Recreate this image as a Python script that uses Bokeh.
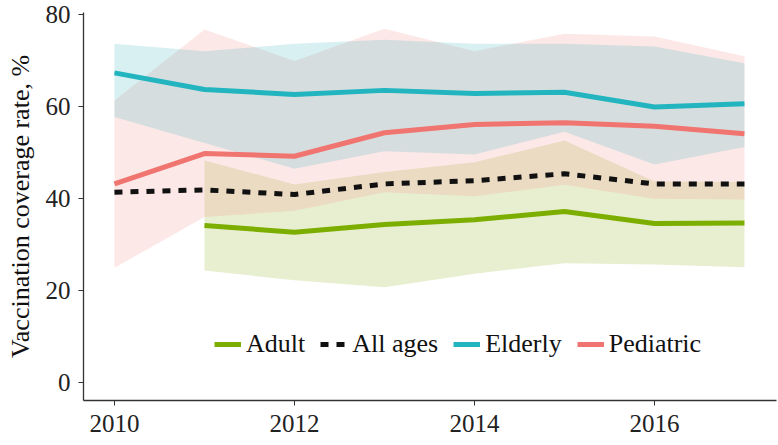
from bokeh.plotting import figure
from bokeh.models import Range1d, FixedTicker, Legend, LegendItem
from bokeh.embed import file_html
from bokeh.resources import INLINE

years = [2010, 2011, 2012, 2013, 2014, 2015, 2016, 2017]
adult_years = [2011, 2012, 2013, 2014, 2015, 2016, 2017]

adult = [34.2, 32.7, 34.4, 35.4, 37.2, 34.6, 34.7]
adult_lo = [24.4, 22.3, 20.8, 23.7, 26.0, 25.7, 25.1]
adult_hi = [48.3, 43.1, 45.8, 47.9, 52.6, 43.7, 43.6]

all_ages = [41.4, 41.9, 40.9, 43.2, 43.9, 45.4, 43.2, 43.2]

elderly = [67.3, 63.7, 62.6, 63.5, 62.8, 63.1, 59.9, 60.6]
elderly_lo = [57.7, 52.1, 46.5, 50.3, 49.6, 54.5, 47.4, 51.2]
elderly_hi = [73.6, 72.0, 73.6, 74.5, 73.6, 73.6, 73.0, 69.4]

pediatric = [43.2, 49.8, 49.2, 54.3, 56.1, 56.5, 55.7, 54.1]
pediatric_lo = [25.0, 36.0, 37.4, 41.4, 40.5, 43.0, 40.0, 39.8]
pediatric_hi = [61.3, 76.7, 69.9, 76.9, 72.0, 75.8, 75.2, 70.9]

x_ticks = [2010, 2012, 2014, 2016]
y_ticks = [0, 20, 40, 60, 80]

GREEN = "#7CAE00"
TEAL = "#22B5BF"
RED = "#F07470"
FONT = "Times New Roman"

p = figure(width=778, height=445, output_backend="svg", toolbar_location=None,
           x_range=Range1d(2009.656, 2017.356), y_range=Range1d(-3.8, 80.4),
           min_border_left=83, min_border_right=2, min_border_top=12, min_border_bottom=45)
p.outline_line_color = None
p.xgrid.visible = False
p.ygrid.visible = False

p.varea(x=adult_years, y1=adult_lo, y2=adult_hi, fill_color="#8CAF14", fill_alpha=0.2)
p.varea(x=years, y1=pediatric_lo, y2=pediatric_hi, fill_color="#F58C8C", fill_alpha=0.2)
p.varea(x=years, y1=elderly_lo, y2=elderly_hi, fill_color="#3CB4B8", fill_alpha=0.2)

r_adult = p.line(adult_years, adult, line_color=GREEN, line_width=5)
r_all = p.line(years, all_ages, line_color="#111111", line_width=5, line_dash="8 8", line_cap="butt")
r_eld = p.line(years, elderly, line_color=TEAL, line_width=5)
r_ped = p.line(years, pediatric, line_color=RED, line_width=5)

legend = Legend(items=[LegendItem(label="Adult", renderers=[r_adult]),
                       LegendItem(label="All ages", renderers=[r_all]),
                       LegendItem(label="Elderly", renderers=[r_eld]),
                       LegendItem(label="Pediatric", renderers=[r_ped])],
                orientation="horizontal", location=(131, 41),
                label_text_font=FONT, label_text_font_size="26px",
                label_text_color="#111111", glyph_width=27, glyph_height=26,
                label_height=26, label_standoff=5, spacing=15, padding=0, margin=0,
                border_line_color=None, background_fill_alpha=0)
p.add_layout(legend, "center")

xax = p.xaxis[0]
yax = p.yaxis[0]
for ax in (xax, yax):
    ax.axis_line_color = "#333333"
    ax.axis_line_width = 1.3
    ax.major_tick_line_color = "#333333"
    ax.major_tick_out = 5
    ax.major_tick_in = 0
    ax.minor_tick_line_color = None
    ax.major_label_text_font = FONT
    ax.major_label_text_font_size = "25px"
    ax.major_label_text_color = "#222222"

xax.ticker = FixedTicker(ticks=x_ticks)
yax.ticker = FixedTicker(ticks=y_ticks)
xax.major_label_standoff = 9
yax.major_label_standoff = 8
yax.axis_label = "Vaccination coverage rate, %"
yax.axis_label_text_font = FONT
yax.axis_label_text_font_size = "26px"
yax.axis_label_text_font_style = "normal"
yax.axis_label_text_color = "#111111"
yax.axis_label_standoff = 8

open("out.html", "w").write(file_html(p, INLINE))
